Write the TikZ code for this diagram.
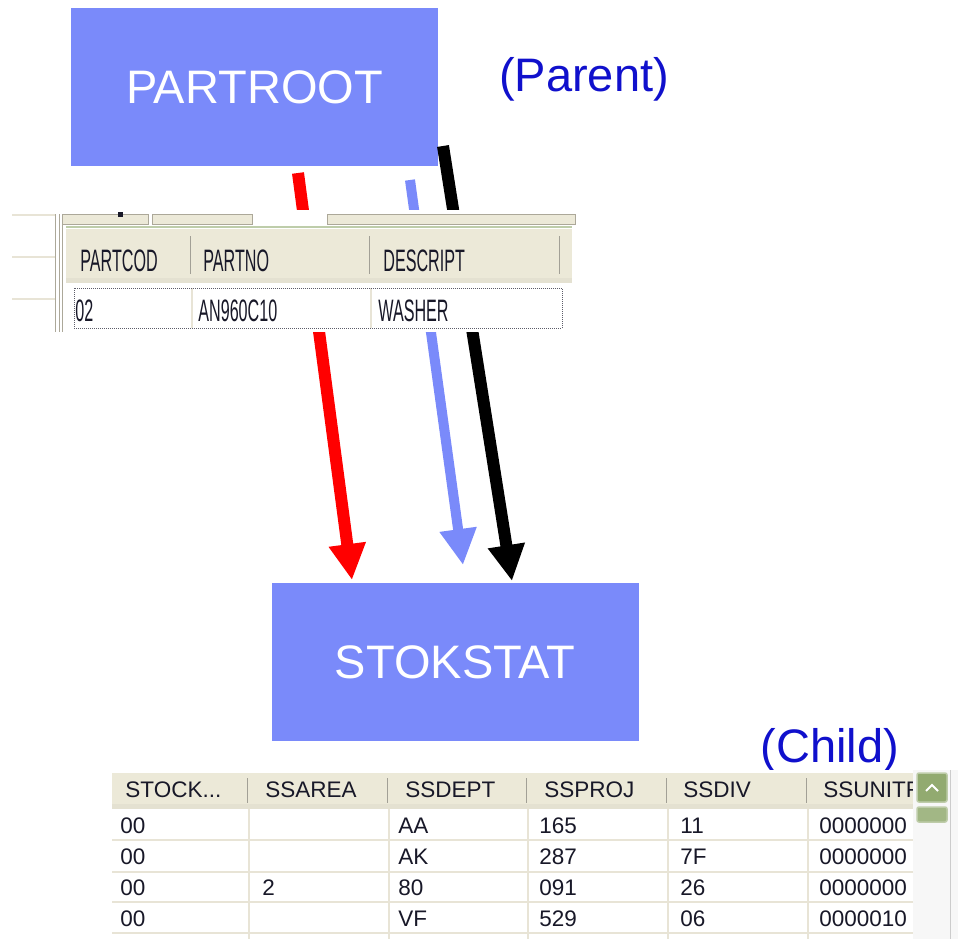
\documentclass[tikz,border=0pt]{standalone}
\usepackage{graphicx}
\usepackage{fontspec}
\setmainfont{Liberation Sans}
\usetikzlibrary{arrows.meta,calc}

\definecolor{boxblue}{RGB}{122,138,250}
\definecolor{labelblue}{RGB}{16,16,204}
\definecolor{gridbeige}{RGB}{236,233,216}
\definecolor{gridline}{RGB}{232,228,214}
\definecolor{framegrey}{RGB}{172,168,153}
\definecolor{framegreen}{RGB}{190,205,170}
\definecolor{bargreen}{RGB}{146,170,112}
\definecolor{celltext}{RGB}{24,24,40}

\newcommand{\squeeze}[1]{\scalebox{0.52}[1]{#1}}

\begin{document}
\begin{tikzpicture}[x=1pt,y=-1pt,thick]
    \tikzstyle{table}=[rectangle, fill=boxblue, text=white, inner sep=0pt,
        minimum width=367pt, minimum height=158pt,
        font=\fontsize{47}{50}\selectfont]
    \tikzstyle{role}=[text=labelblue, font=\fontsize{47}{50}\selectfont]
    \tikzstyle{link}=[line width=12pt, -{Triangle[length=36pt,width=35pt]}]
    \tikzstyle{ph}=[anchor=west, inner sep=0pt, text=celltext, font=\fontsize{31}{31}\selectfont]
    \tikzstyle{ch}=[anchor=west, inner sep=0pt, text=celltext, font=\fontsize{22.5}{22.5}\selectfont]

    \useasboundingbox (0,0) rectangle (958,939);

    \node[table] (root) at (254.5,87) {PARTROOT};
    \node[table] (stok) at (455,662) {STOKSTAT};
    \node[role] (parent) at (584,79) {(Parent)};
    \node[role] (child) at (830,750) {(Child)};

    % arrow ends
    \coordinate (rs) at (298,173);
    \coordinate (re) at (352,580);
    \coordinate (bs) at (410,180);
    \coordinate (be) at (463,565);
    \coordinate (ks) at (443,146);
    \coordinate (ke) at (512,581);

    \draw (rs) edge[link, red] (re);
    \draw (bs) edge[link, boxblue, line width=10pt] (be);
    \draw (ks) edge[link, black] (ke);

    % parent grid
    \fill[white] (12,210) rectangle (572,332);
    \draw[gridline, line width=2pt] (12,215) -- (55,215) (12,257) -- (55,257) (12,299) -- (55,299);
    \draw[framegrey, line width=1pt] (55,214) -- (55,332) (59,214) -- (59,332);
    \draw[framegrey, fill=gridbeige, line width=1pt] (62,214) rectangle (148,224);
    \draw[framegrey, fill=gridbeige, line width=1pt] (152,214) rectangle (252,224);
    \draw[framegrey, fill=gridbeige, line width=1pt] (327,214) rectangle (575,224);
    \fill[celltext] (118,212) rectangle (123,217);
    \draw[framegrey, line width=1pt] (62,224) -- (62,332);
    \draw[framegreen, line width=2pt] (66,227) -- (572,227);
    \fill[gridbeige] (66,229) rectangle (572,282);
    \fill[gridline!85!black!20!gridbeige] (66,278) rectangle (572,283);
    \draw[gridline!70!black, line width=1pt] (190,236) -- (190,274) (369,236) -- (369,274) (559,236) -- (559,274);
    \draw[gridline, line width=1.5pt] (192,288) -- (192,328) (371,288) -- (371,328);
    \draw[celltext!70, densely dotted, line width=1pt] (74,288) rectangle (562,328);

    \node[ph] (pc1) at (80,261) {\squeeze{PARTCOD}};
    \node[ph] (pc2) at (203,261) {\squeeze{PARTNO}};
    \node[ph] (pc3) at (383,261) {\squeeze{DESCRIPT}};
    \node[ph] (pv1) at (75,311) {\squeeze{02}};
    \node[ph] (pv2) at (198,311) {\squeeze{AN960C10}};
    \node[ph] (pv3) at (378,311) {\squeeze{WASHER}};

    % child grid
    \fill[white] (110,770) rectangle (958,939);
    \begin{scope}
        \clip (112,770) rectangle (913,939);
        \fill[gridbeige] (112,773) rectangle (913,808);
        \fill[gridline!85!black!20!gridbeige] (112,804) rectangle (913,809);
        \draw[gridline!70!black, line width=1pt] (247,778) -- (247,803) (387,778) -- (387,803)
            (526,778) -- (526,803) (666,778) -- (666,803) (806,778) -- (806,803);
        \draw[gridline, line width=2pt] (112,840) -- (913,840) (112,872) -- (913,872)
            (112,902) -- (913,902) (112,933) -- (913,933);
        \draw[gridline, line width=2pt] (249,809) -- (249,939) (389,809) -- (389,939)
            (528,809) -- (528,939) (668,809) -- (668,939) (808,809) -- (808,939);

        \node[ch] (h1) at (125,790) {STOCK...};
        \node[ch] (h2) at (265,790) {SSAREA};
        \node[ch] (h3) at (405,790) {SSDEPT};
        \node[ch] (h4) at (544,790) {SSPROJ};
        \node[ch] (h5) at (683,790) {SSDIV};
        \node[ch] (h6) at (823,790) {SSUNITF};

        \node[ch] at (120,826) {00};  \node[ch] at (398,826) {AA};
        \node[ch] at (539,826) {165}; \node[ch] at (680,826) {11};
        \node[ch] at (819,826) {0000000};
        \node[ch] at (120,857) {00};  \node[ch] at (398,857) {AK};
        \node[ch] at (539,857) {287}; \node[ch] at (680,857) {7F};
        \node[ch] at (819,857) {0000000};
        \node[ch] at (120,888) {00};  \node[ch] at (262,888) {2};
        \node[ch] at (398,888) {80};  \node[ch] at (539,888) {091};
        \node[ch] at (680,888) {26};  \node[ch] at (819,888) {0000000};
        \node[ch] at (120,919) {00};  \node[ch] at (398,919) {VF};
        \node[ch] at (539,919) {529}; \node[ch] at (680,919) {06};
        \node[ch] at (819,919) {0000010};
    \end{scope}

    % scroll bar
    \fill[gray!6] (913,770) rectangle (958,939);
    \draw[gray!40, line width=1pt] (950,770) -- (950,939);
    \draw[bargreen!60!white, fill=bargreen, rounded corners=2pt, line width=1.5pt] (917,773) rectangle (947,802);
    \draw[white, line width=2pt] (926,791) -- (932,785) -- (938,791);
    \draw[bargreen!60!white, fill=bargreen!85!white, rounded corners=2pt, line width=1.5pt] (917,807) rectangle (947,822);
\end{tikzpicture}
\end{document}
